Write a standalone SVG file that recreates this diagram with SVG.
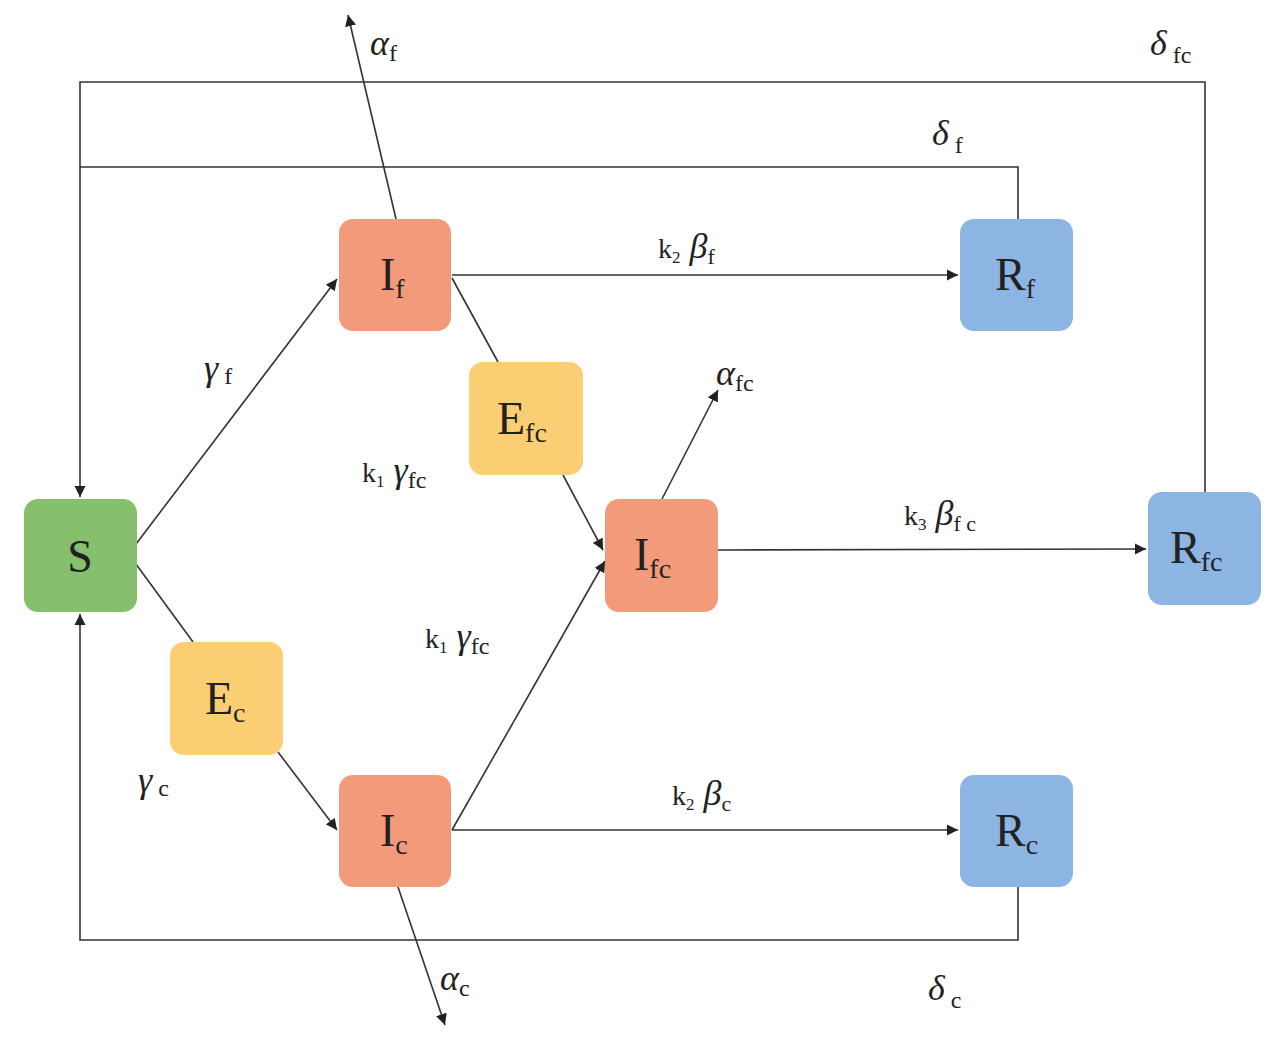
<svg xmlns="http://www.w3.org/2000/svg" width="1280" height="1045" viewBox="0 0 1280 1045">
<style>
.ln{stroke:#333;stroke-width:1.6;fill:none}
.nl{font-family:"Liberation Serif","Times New Roman","DejaVu Serif",serif;font-size:46px;fill:#222}
.sb{font-size:28px}
.gl{font-family:"Liberation Serif","Times New Roman","DejaVu Serif",serif;font-size:36px;font-style:italic;fill:#222}
.gs{font-style:normal;font-size:24px}
.kl{font-family:"Liberation Serif","Times New Roman","DejaVu Serif",serif;font-size:28px;fill:#222}
.g{fill:#86c06d}.o{fill:#f39a7b}.y{fill:#fcce74}.b{fill:#8db5e3}
</style>
<defs><marker id="a" viewBox="0 0 10 10" refX="10" refY="5" markerWidth="7" markerHeight="7" orient="auto-start-reverse"><path d="M0,0L10,5L0,10z" fill="#222"/></marker></defs>
<rect width="1280" height="1045" fill="#fff"/>
<g id="connectors">
<polyline class="ln" points="1205,492 1205,82 80,82 80,497" marker-end="url(#a)"/>
<polyline class="ln" points="1018,219 1018,167 80,167"/>
<polyline class="ln" points="1018,887 1018,940 80,940 80,614" marker-end="url(#a)"/>
<line class="ln" x1="133" y1="548" x2="337" y2="279" marker-end="url(#a)"/>
<line class="ln" x1="133" y1="560" x2="193" y2="642"/>
<line class="ln" x1="278" y1="752" x2="337" y2="830" marker-end="url(#a)"/>
<line class="ln" x1="452" y1="278" x2="498" y2="362"/>
<line class="ln" x1="563" y1="475" x2="603" y2="550" marker-end="url(#a)"/>
<line class="ln" x1="452" y1="830" x2="605" y2="561" marker-end="url(#a)"/>
<line class="ln" x1="396" y1="219" x2="348" y2="15" marker-end="url(#a)"/>
<line class="ln" x1="398" y1="887" x2="445" y2="1025" marker-end="url(#a)"/>
<line class="ln" x1="662" y1="499" x2="718" y2="390" marker-end="url(#a)"/>
<line class="ln" x1="452" y1="275" x2="958" y2="275" marker-end="url(#a)"/>
<line class="ln" x1="718" y1="550" x2="1146" y2="549" marker-end="url(#a)"/>
<line class="ln" x1="452" y1="830" x2="958" y2="830" marker-end="url(#a)"/>
</g>
<g id="S"><rect class="g" x="24" y="499" width="113" height="113" rx="14"/><text class="nl" x="80" y="572" text-anchor="middle">S</text></g>
<g id="If"><rect class="o" x="339" y="219" width="112" height="112" rx="14"/><text class="nl" x="380" y="290">I<tspan class="sb" dy="8">f</tspan></text></g>
<g id="Efc"><rect class="y" x="469" y="362" width="114" height="113" rx="14"/><text class="nl" x="497" y="434">E<tspan class="sb" dy="8">fc</tspan></text></g>
<g id="Ifc"><rect class="o" x="605" y="499" width="113" height="113" rx="14"/><text class="nl" x="634" y="570">I<tspan class="sb" dy="8">fc</tspan></text></g>
<g id="Ec"><rect class="y" x="170" y="642" width="113" height="113" rx="14"/><text class="nl" x="205" y="714">E<tspan class="sb" dy="8">c</tspan></text></g>
<g id="Ic"><rect class="o" x="339" y="775" width="112" height="112" rx="14"/><text class="nl" x="380" y="846">I<tspan class="sb" dy="8">c</tspan></text></g>
<g id="Rf"><rect class="b" x="960" y="219" width="113" height="112" rx="14"/><text class="nl" x="995" y="290">R<tspan class="sb" dy="8">f</tspan></text></g>
<g id="Rfc"><rect class="b" x="1148" y="492" width="113" height="113" rx="14"/><text class="nl" x="1170" y="563">R<tspan class="sb" dy="8">fc</tspan></text></g>
<g id="Rc"><rect class="b" x="960" y="775" width="113" height="112" rx="14"/><text class="nl" x="995" y="846">R<tspan class="sb" dy="8">c</tspan></text></g>
<g id="labels">
<text class="gl" x="370" y="55">α<tspan class="gs" dy="6">f</tspan></text>
<text class="gl" x="1150" y="55">δ<tspan class="gs" dy="8"> fc</tspan></text>
<text class="gl" x="932" y="145">δ<tspan class="gs" dy="8"> f</tspan></text>
<text class="gl" x="204" y="380">γ<tspan class="gs" dy="4"> f</tspan></text>
<text class="gl" x="716" y="385">α<tspan class="gs" dy="6">fc</tspan></text>
<text class="kl" x="658" y="258">k<tspan font-size="17" dy="5">2</tspan><tspan class="gl" dy="-5"> β</tspan><tspan font-size="22" dy="6">f</tspan></text>
<text class="kl" x="362" y="482">k<tspan font-size="17" dy="5">1</tspan><tspan class="gl" dy="-5"> γ</tspan><tspan font-size="24" dy="6">fc</tspan></text>
<text class="kl" x="904" y="525">k<tspan font-size="17" dy="5">3</tspan><tspan class="gl" dy="-5"> β</tspan><tspan font-size="22" dy="6">f c</tspan></text>
<text class="kl" x="425" y="648">k<tspan font-size="17" dy="5">1</tspan><tspan class="gl" dy="-5"> γ</tspan><tspan font-size="24" dy="6">fc</tspan></text>
<text class="gl" x="138" y="792">γ<tspan class="gs" dy="4"> c</tspan></text>
<text class="kl" x="672" y="805">k<tspan font-size="17" dy="5">2</tspan><tspan class="gl" dy="-5"> β</tspan><tspan font-size="22" dy="6">c</tspan></text>
<text class="gl" x="440" y="990">α<tspan class="gs" dy="6">c</tspan></text>
<text class="gl" x="928" y="1000">δ<tspan class="gs" dy="8"> c</tspan></text>
</g>
</svg>
